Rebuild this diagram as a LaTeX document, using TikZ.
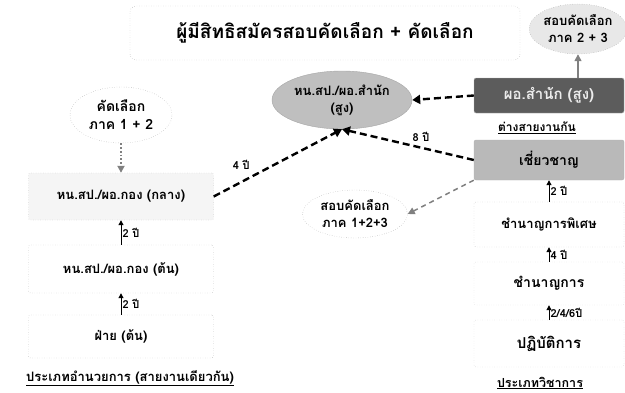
\documentclass[tikz,border=0pt]{standalone}
\usepackage{fontspec}
\newfontfamily\thai[Script=Thai]{Loma}
\usetikzlibrary{arrows.meta,shapes.geometric}
\begin{document}
\begin{tikzpicture}[x=1pt,y=-1pt,
  tf/.style={font=\thai\bfseries\fontsize{#1}{\dimexpr #1pt+4pt\relax}\selectfont},
  lbox/.style={draw=gray!80,dotted,rounded corners=2pt,minimum width=185pt,inner sep=0pt,tf=13},
  rbox/.style={draw=gray!80,dotted,rounded corners=2pt,minimum width=150pt,inner sep=0pt,tf=13},
  oval/.style={ellipse,draw=gray!80,dotted,inner sep=0pt,align=center,tf=13},
  bigarrow/.style={line width=2.4pt,dash pattern=on 7pt off 4pt,-{Triangle[length=8pt,width=9pt]}},
  step arrow/.style={line width=1pt,-{Triangle[length=5pt,width=5pt]}},
  yr/.style={tf=11,right,inner sep=1pt},
]
\useasboundingbox (0,0) rectangle (625,392);
% title
\node[draw=gray!80,dotted,rounded corners=6pt,minimum width=390pt,minimum height=54pt,tf=19] (title) at (325,33) {ผู้มีสิทธิสมัครสอบคัดเลือก + คัดเลือก};
% ellipses
\node[oval,fill=gray!18,minimum width=92pt,minimum height=50pt] (topell) at (578,29) {สอบคัดเลือก\\ภาค 2 + 3};
\node[ellipse,draw=gray!70,fill=gray!50,minimum width=140pt,minimum height=58pt,inner sep=0pt,align=center,tf=13] (high) at (342,100) {หน.สป./ผอ.สำนัก\\(สูง)};
\node[oval,minimum width=105pt,minimum height=48pt] (exam) at (355,214) {สอบคัดเลือก\\ภาค 1+2+3};
\node[oval,minimum width=102pt,minimum height=56pt,tf=14] (sel) at (121,115) {คัดเลือก\\ภาค 1 + 2};
% left column
\node[lbox,fill=gray!8,minimum height=47pt] (klang) at (121,196.5) {หน.สป./ผอ.กอง (กลาง)};
\node[lbox,minimum height=48pt] (ton) at (121,269) {หน.สป./ผอ.กอง (ต้น)};
\node[lbox,minimum height=43pt] (fai) at (121,336.5) {ฝ่าย (ต้น)};
\node[tf=13] (capL) at (130,378) {\underline{ประเภทอำนวยการ (สายงานเดียวกัน)}};
% right column
\node[rbox,draw=gray!60,solid,fill=gray!72!black,text=gray!15,minimum height=35pt,tf=15] (dark) at (549,95.5) {ผอ.สำนัก (สูง)};
\node[tf=12] (diff) at (537,128) {\underline{ต่างสายงานกัน}};
\node[rbox,draw=gray!60,solid,fill=gray!55,minimum height=40pt,tf=14] (chiao) at (549,160) {เชี่ยวชาญ};
\node[rbox,minimum height=45pt] (spec) at (549,224.5) {ชำนาญการพิเศษ};
\node[rbox,draw=gray!50,minimum height=43pt,tf=14] (cham) at (549,283.5) {ชำนาญการ};
\node[rbox,draw=gray!60,minimum height=47pt,tf=15] (prac) at (549,343.5) {ปฏิบัติการ};
\node[tf=12.5] (capR) at (540,383) {\underline{ประเภทวิชาการ}};
% step arrows
\draw[step arrow] (ton.north) -- node[yr]{2 ปี} (klang.south);
\draw[step arrow] (fai.north) -- node[yr]{2 ปี} (ton.south);
\draw[step arrow] (spec.north) -- node[yr]{2 ปี} (chiao.south);
\draw[step arrow] (cham.north) -- node[yr]{4 ปี} (spec.south);
\draw[step arrow] (prac.north) -- node[yr]{2/4/6ปี} (cham.south);
% big arrows
\draw[bigarrow] (dark.west) -- (high.east);
\draw[bigarrow] (chiao.west) -- node[above,pos=0.4,tf=11,inner sep=5pt]{8 ปี} (high.south);
\draw[bigarrow] (klang.east) -- node[pos=0.32,anchor=south east,tf=11,inner sep=4pt]{4 ปี} (high.south);
\draw[line width=1.5pt,gray,dash pattern=on 5pt off 4pt,-{Triangle[length=7pt,width=7pt]}] (chiao.south west) -- (exam.east);
\draw[line width=1.5pt,gray,-{Triangle[length=7pt,width=7pt]}] (topell.south |- dark.north) -- (topell.south);
\draw[line width=1.8pt,gray,dotted,-{Triangle[length=7pt,width=7pt]}] (sel.south) -- (klang.north);
\end{tikzpicture}
\end{document}
